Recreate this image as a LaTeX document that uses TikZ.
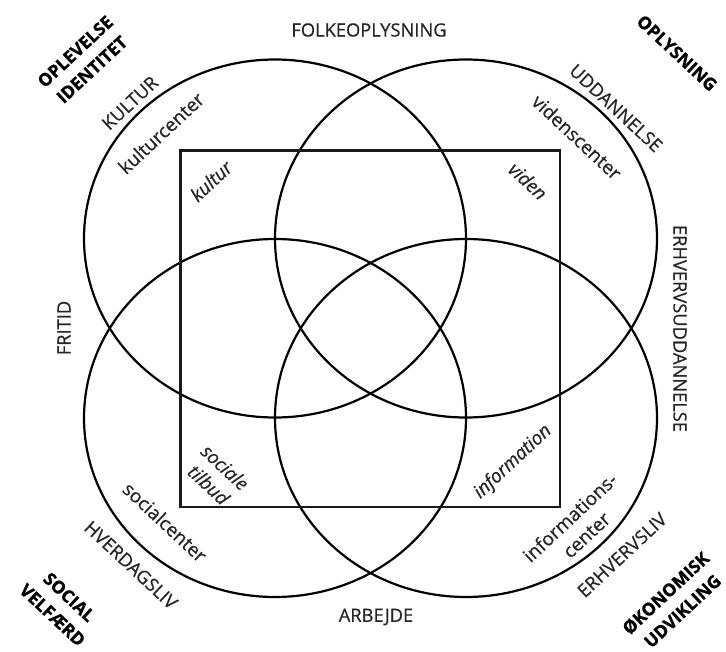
\documentclass[tikz,border=0pt]{standalone}
\usepackage{fontspec}
\setmainfont{Open Sans}
\newfontfamily\heavysans[FakeBold=1]{Open Sans}
\begin{document}
\begin{tikzpicture}[x=1pt,y=-1pt,
  ring/.style={draw=black,line width=2.2pt},
  frame/.style={draw=black!90,line width=2.2pt},
  caplabel/.style={font=\addfontfeature{FakeBold=0.6}\fontsize{18.3}{20}\selectfont,text=black!85,inner sep=0pt},
  lowlabel/.style={font=\addfontfeature{FakeBold=0.6}\fontsize{19}{24}\selectfont,text=black!85,inner sep=0pt,align=center},
  itallabel/.style={font=\itshape\addfontfeature{FakeBold=0.6}\fontsize{18.7}{24}\selectfont,text=black!85,inner sep=0pt,align=center},
  cornerlabel/.style={font=\heavysans\bfseries\fontsize{17.5}{24.5}\selectfont,text=black,inner sep=0pt,align=center}]
\useasboundingbox (0,0) rectangle (726,651);
\fill[white] (0,0) rectangle (726,651);
% circles
\draw[ring] (275,238.5) ellipse [x radius=191, y radius=179];
\draw[ring] (466,238.5) ellipse [x radius=191, y radius=179];
\draw[ring] (275,418) ellipse [x radius=191, y radius=179];
\draw[ring] (466,418) ellipse [x radius=191, y radius=179];
% square
\draw[frame] (180.5,150.5) rectangle (560,507);
% side labels
\node[caplabel] (folk) at (369,30) {FOLKEOPLYSNING};
\node[caplabel] (arb) at (376,617) {ARBEJDE};
\node[caplabel,rotate=90] (fritid) at (64,328) {FRITID};
\node[caplabel,rotate=-90] (erhu) at (680,328.5) {ERHVERVSUDDANNELSE};
% corner labels
\node[cornerlabel,rotate=43] (ople) at (83.5,60.5) {OPLEVELSE\\IDENTITET};
\node[cornerlabel,rotate=-43] (oply) at (677,53) {OPLYSNING};
\node[cornerlabel,rotate=-43] (soc) at (61,606) {SOCIAL\\VELFÆRD};
\node[cornerlabel,rotate=43] (oko) at (674,602) {ØKONOMISK\\UDVIKLING};
% circle labels
\node[caplabel,rotate=43] (kultur) at (130,103) {KULTUR};
\node[caplabel,rotate=-43] (udd) at (616,108) {UDDANNELSE};
\node[caplabel,rotate=-43] (hverd) at (131,565) {HVERDAGSLIV};
\node[caplabel,rotate=43] (erhv) at (622,555) {ERHVERVSLIV};
% centre labels
\node[lowlabel,rotate=43] (kc) at (161,133) {kulturcenter};
\node[lowlabel,rotate=-43] (vc) at (577,137) {videnscenter};
\node[lowlabel,rotate=-43] (sc) at (165,522) {socialcenter};
\node[lowlabel,rotate=43] (ic) at (578,526) {informations-\\center};
% inner labels
\node[itallabel,rotate=43] (ku) at (211,181) {kultur};
\node[itallabel,rotate=-43] (vi) at (528,181) {viden};
\node[itallabel,rotate=-43] (st) at (217,476) {sociale\\tilbud};
\node[itallabel,rotate=43] (inf) at (513,462) {information};
\end{tikzpicture}
\end{document}
